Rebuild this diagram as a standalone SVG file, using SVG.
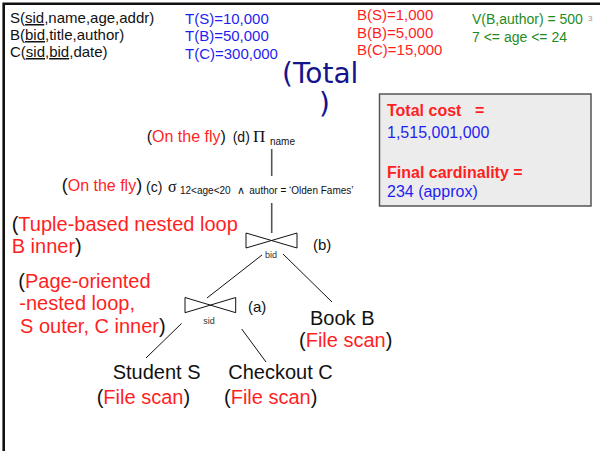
<svg xmlns="http://www.w3.org/2000/svg" width="600" height="451" viewBox="0 0 600 451">
  <style>
    text { font-family: "Liberation Sans", Arial, sans-serif; fill: #111; }
    .r { fill: #ff1f1f; }
    .bl { fill: #1f1ff0; }
    .g { fill: #1f8c1f; }
    .u { text-decoration: underline; }
    .f15 { font-size: 15px; }
    .f20 { font-size: 20px; }
    .serif { font-family: "Liberation Serif", "Times New Roman", serif; }
    .attr { font-size: 9px; fill: #333; }
    .join { fill: none; stroke: #111; stroke-width: 1; stroke-linejoin: miter; }
    .edge { stroke: #111; stroke-width: 1; fill: none; }
    .stem { stroke: #555; stroke-width: 1.6; fill: none; }
    .sumbox { fill: #ececec; stroke: #555; stroke-width: 1.5; }
    .hd { font-size: 16px; font-weight: bold; fill: #ff1f1f; }
    .val { font-size: 16px; fill: #1f1ff0; }
    .title { font-family: "DejaVu Sans", Verdana, sans-serif; font-size: 28px; fill: #14148c; }
  </style>

  <!-- slide frame -->
  <path d="M600 3.7 H3.7 V451" fill="none" stroke="#111" stroke-width="2.6"/>

  <!-- schema and statistics -->
  <g id="schema" class="f15">
    <text x="10" y="23">S(<tspan class="u">sid</tspan>,name,age,addr)</text>
    <text x="10" y="40">B(<tspan class="u">bid</tspan>,title,author)</text>
    <text x="10" y="57">C(<tspan class="u">sid</tspan>,<tspan class="u">bid</tspan>,date)</text>
  </g>
  <g id="tuples" class="f15">
    <text class="bl" x="185" y="23.5">T(S)=10,000</text>
    <text class="bl" x="185" y="41">T(B)=50,000</text>
    <text class="bl" x="185" y="58.5">T(C)=300,000</text>
  </g>
  <g id="blocks" class="f15">
    <text class="r" x="357" y="20">B(S)=1,000</text>
    <text class="r" x="357" y="37.5">B(B)=5,000</text>
    <text class="r" x="357" y="55">B(C)=15,000</text>
  </g>
  <g id="selectivity" font-size="14">
    <text class="g" x="472" y="24">V(B,author) = 500</text>
    <text class="g" x="472" y="42">7 &lt;= age &lt;= 24</text>
    <text x="588" y="21" font-size="8" style="fill:#9a9a9a">3</text>
  </g>

  <g id="total-title">
    <text class="title" x="282" y="83">(Total</text>
    <text class="title" x="319" y="113">)</text>
  </g>

  <!-- cost summary -->
  <g id="summary">
    <rect class="sumbox" x="379.5" y="94" width="211.5" height="112"/>
    <text class="hd" x="387" y="115.5">Total cost<tspan x="475">=</tspan></text>
    <text class="val" x="387" y="137.5">1,515,001,000</text>
    <text class="hd" x="387" y="177.5">Final cardinality =</text>
    <text class="val" x="387" y="197">234 (approx)</text>
  </g>

  <!-- connectors -->
  <g id="connectors">
    <line class="stem" x1="271.7" y1="149" x2="271.7" y2="176"/>
    <line class="stem" x1="271.7" y1="203" x2="271.7" y2="233"/>
    <line class="edge" x1="262" y1="255" x2="207" y2="298"/>
    <line class="edge" x1="283" y1="254" x2="332" y2="302"/>
    <line class="edge" x1="181.5" y1="323.5" x2="146" y2="358"/>
    <line class="edge" x1="241.7" y1="329" x2="266" y2="362"/>
  </g>

  <!-- projection -->
  <g id="node-d">
    <text x="146.7" y="142"><tspan font-size="16">(</tspan><tspan class="r" font-size="16">On the fly</tspan><tspan font-size="16">)</tspan><tspan x="232.7" font-size="14">(d)</tspan><tspan x="253" class="serif" font-size="17">Π</tspan><tspan x="270" y="145" font-size="10">name</tspan></text>
  </g>

  <!-- selection -->
  <g id="node-c">
    <text x="61.7" y="191"><tspan font-size="18">(</tspan><tspan class="r" font-size="16">On the fly</tspan><tspan font-size="18">)</tspan><tspan x="146" y="192" font-size="14">(c)</tspan><tspan x="168" class="serif" font-size="16">σ</tspan><tspan x="180" y="194" font-size="10">12&lt;age&lt;20</tspan><tspan x="237" y="194" font-size="11" style="font-family:'DejaVu Sans',sans-serif">∧</tspan><tspan x="249.3" y="194" font-size="10">author = ‘Olden Fames’</tspan></text>
  </g>

  <!-- join on bid -->
  <g id="node-b">
    <path class="join" d="M246 233 L297 248 V233 L246 248 Z"/>
    <text class="attr" x="271" y="258" text-anchor="middle">bid</text>
    <text class="f15" x="313" y="250">(b)</text>
    <text class="f20" x="11.7" y="231">(<tspan class="r">Tuple-based nested loop</tspan></text>
    <text class="f20" x="11.7" y="253"><tspan class="r">B inner</tspan>)</text>
  </g>

  <!-- join on sid -->
  <g id="node-a">
    <path class="join" d="M185 297.5 L235.7 312.7 V297.5 L185 312.7 Z"/>
    <text class="attr" x="209" y="324" text-anchor="middle">sid</text>
    <text class="f15" x="248" y="311.5">(a)</text>
    <text class="f20" x="18.3" y="287.5">(<tspan class="r">Page-oriented</tspan></text>
    <text class="f20 r" x="19.3" y="310">-nested loop,</text>
    <text class="f20" x="20" y="332.5"><tspan class="r">S outer, C inner</tspan>)</text>
  </g>

  <!-- base relations -->
  <g id="book">
    <text class="f20" x="310" y="325">Book B</text>
    <text class="f20" x="299" y="347">(<tspan class="r">File scan</tspan>)</text>
  </g>
  <g id="student">
    <text class="f20" x="112.7" y="379">Student S</text>
    <text class="f20" x="96.7" y="404">(<tspan class="r">File scan</tspan>)</text>
  </g>
  <g id="checkout">
    <text class="f20" x="228.3" y="379">Checkout C</text>
    <text class="f20" x="224" y="404">(<tspan class="r">File scan</tspan>)</text>
  </g>
</svg>
